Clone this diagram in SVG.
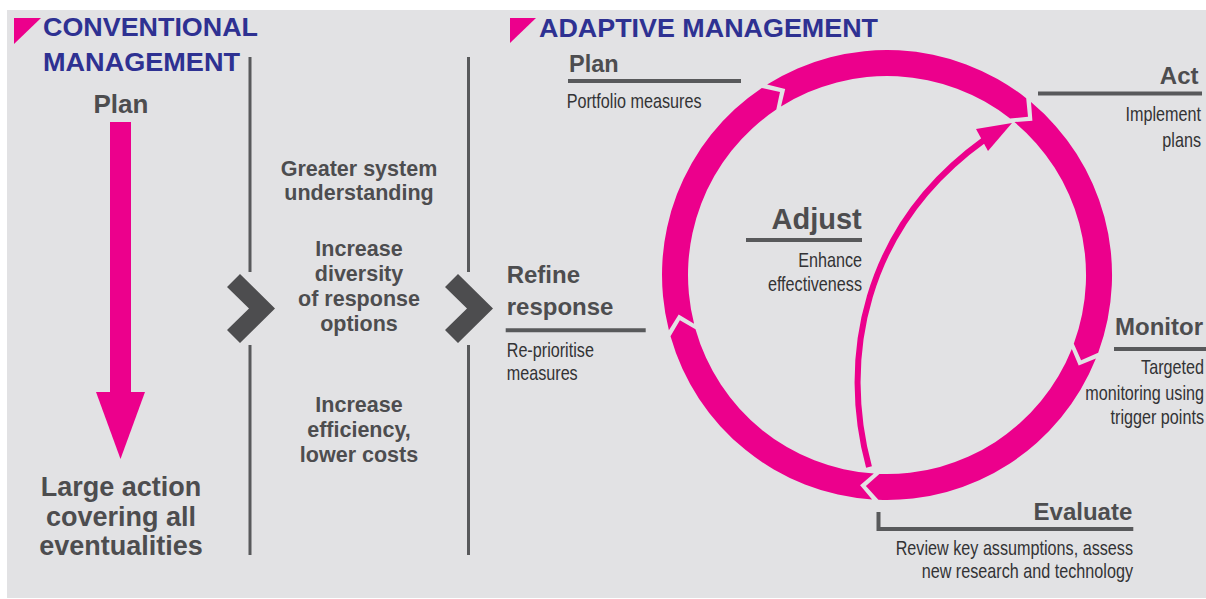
<svg xmlns="http://www.w3.org/2000/svg" width="1206" height="599" viewBox="0 0 1206 599">
<defs>
<style>
.bg{fill:#e2e2e4}
.hdr{font-family:"Liberation Sans",Arial,sans-serif;font-weight:bold;fill:#2e3192;font-size:25px}
.b{font-family:"Liberation Sans",Arial,sans-serif;font-weight:bold;fill:#4d4d4f}
.c{font-family:"Liberation Sans",Arial,sans-serif;fill:#333335;font-size:19.5px}
.e{text-anchor:end}
.pink{fill:#ec008c}
.rule{stroke:#58595b;stroke-width:4;fill:none}
.div{stroke:#58595b;stroke-width:3}
.chev{fill:#4d4d4f}
.thin{fill:none;stroke:#ec008c;stroke-width:6}
</style>
</defs>
<rect x="0" y="0" width="1206" height="599" fill="#ffffff"/>
<rect class="bg" x="7" y="10" width="1199" height="588"/>

<g id="conventional">
  <polygon class="pink" points="14,18 41,18 14,44"/>
  <text class="hdr" x="43" y="36" textLength="215" lengthAdjust="spacingAndGlyphs">CONVENTIONAL</text>
  <text class="hdr" x="43" y="71" textLength="197" lengthAdjust="spacingAndGlyphs">MANAGEMENT</text>
</g>
<g id="conv-plan">
  <text class="b" x="121" y="112.5" font-size="26" text-anchor="middle">Plan</text>
</g>
<g id="conv-action">
  <text class="b" x="121" y="496" font-size="27" text-anchor="middle">Large action</text>
  <text class="b" x="121" y="525.5" font-size="27" text-anchor="middle">covering all</text>
  <text class="b" x="121" y="555" font-size="27" text-anchor="middle">eventualities</text>
</g>

<g id="dividers">
  <line class="div" x1="250" y1="57" x2="250" y2="272"/>
  <line class="div" x1="250" y1="345" x2="250" y2="555"/>
  <line class="div" x1="468.5" y1="57" x2="468.5" y2="272"/>
  <line class="div" x1="468.5" y1="345" x2="468.5" y2="555"/>
  <polygon class="chev" points="227,287 240,274 275,308.5 240,343 227,330 249,308.5"/>
  <polygon class="chev" points="445,287 458,274 493,308.5 458,343 445,330 467,308.5"/>
</g>

<g id="benefits">
  <text class="b" x="359" y="175.7" font-size="21.5" text-anchor="middle">Greater system</text>
  <text class="b" x="359" y="199.7" font-size="21.5" text-anchor="middle">understanding</text>
  <text class="b" x="359" y="255.7" font-size="21.5" text-anchor="middle">Increase</text>
  <text class="b" x="359" y="280.5" font-size="21.5" text-anchor="middle">diversity</text>
  <text class="b" x="359" y="305.5" font-size="21.5" text-anchor="middle">of response</text>
  <text class="b" x="359" y="330.5" font-size="21.5" text-anchor="middle">options</text>
  <text class="b" x="359" y="411.7" font-size="21.5" text-anchor="middle">Increase</text>
  <text class="b" x="359" y="436.7" font-size="21.5" text-anchor="middle">efficiency,</text>
  <text class="b" x="359" y="461.7" font-size="21.5" text-anchor="middle">lower costs</text>
</g>

<g id="adaptive">
  <polygon class="pink" points="510,18 536,18 510,43"/>
  <text class="hdr" x="539" y="36.7" textLength="339" lengthAdjust="spacingAndGlyphs">ADAPTIVE MANAGEMENT</text>
</g>

<g id="connectors">
  <path class="pink" d="M 767.1 84.6 A 225 225 0 0 1 1026.2 98.2 L 1028.0 116.7 L 1010.1 118.6 A 199 199 0 0 0 781.0 106.6 L 785.2 89.1 Z"/>
  <path class="pink" d="M 1031.0 102.1 A 225 225 0 0 1 1098.2 352.7 L 1081.1 360.2 L 1073.8 343.7 A 199 199 0 0 0 1014.4 122.1 L 1032.4 120.7 Z"/>
  <path class="pink" d="M 1095.9 358.6 A 225 225 0 0 1 878.4 499.8 L 865.9 486.0 L 879.4 473.9 A 199 199 0 0 0 1071.8 348.9 L 1078.7 365.6 Z"/>
  <path class="pink" d="M 872.1 499.5 A 225 225 0 0 1 670.5 336.3 L 679.9 320.2 L 695.5 329.2 A 199 199 0 0 0 873.8 473.6 L 860.1 485.3 Z"/>
  <path class="pink" d="M 668.9 330.2 A 225 225 0 0 1 761.8 88.0 L 780.0 92.0 L 776.3 109.6 A 199 199 0 0 0 694.1 323.8 L 678.7 314.4 Z"/>
  <path class="thin" d="M 869 467 C 840 360, 862 228, 984 140"/>
  <polygon class="pink" points="1012,123 976,129 988,151"/>
  <rect class="pink" x="110" y="122" width="21" height="271"/>
  <polygon class="pink" points="96,392 145,392 120.5,459"/>
</g>

<g id="plan">
  <text class="b" x="569" y="71.7" font-size="23.5">Plan</text>
  <line class="rule" x1="568" y1="81" x2="741" y2="81"/>
  <text class="c" transform="translate(566.7,108.3) scale(0.83,1)">Portfolio measures</text>
</g>
<g id="act">
  <text class="b" x="1198.5" y="84.3" font-size="24" text-anchor="end">Act</text>
  <line class="rule" x1="1038" y1="93.5" x2="1202" y2="93.5"/>
  <text class="c e" transform="translate(1201,121) scale(0.83,1)">Implement</text>
  <text class="c e" transform="translate(1201,146.7) scale(0.83,1)">plans</text>
</g>
<g id="monitor">
  <text class="b" x="1203" y="335" font-size="24" text-anchor="end">Monitor</text>
  <line class="rule" x1="1114" y1="349" x2="1206" y2="349"/>
  <text class="c e" transform="translate(1204,374) scale(0.83,1)">Targeted</text>
  <text class="c e" transform="translate(1204,400) scale(0.83,1)">monitoring using</text>
  <text class="c e" transform="translate(1204,424) scale(0.83,1)">trigger points</text>
</g>
<g id="evaluate">
  <text class="b" x="1132.3" y="520" font-size="24" text-anchor="end">Evaluate</text>
  <polyline class="rule" points="878.5,512 878.5,529 1133.3,529"/>
  <text class="c e" transform="translate(1133,555) scale(0.83,1)">Review key assumptions, assess</text>
  <text class="c e" transform="translate(1133,578.3) scale(0.83,1)">new research and technology</text>
</g>
<g id="adjust">
  <text class="b" x="861.7" y="229.3" font-size="29" text-anchor="end">Adjust</text>
  <line class="rule" x1="746" y1="240" x2="862" y2="240"/>
  <text class="c e" transform="translate(862,267.3) scale(0.83,1)">Enhance</text>
  <text class="c e" transform="translate(862,291) scale(0.83,1)">effectiveness</text>
</g>
<g id="refine">
  <text class="b" x="506.7" y="283.3" font-size="24">Refine</text>
  <text class="b" x="506.7" y="315" font-size="24">response</text>
  <line class="rule" x1="505.7" y1="330.3" x2="645.7" y2="330.3"/>
  <text class="c" transform="translate(506.7,357.3) scale(0.83,1)">Re-prioritise</text>
  <text class="c" transform="translate(506.7,380) scale(0.83,1)">measures</text>
</g>
</svg>
